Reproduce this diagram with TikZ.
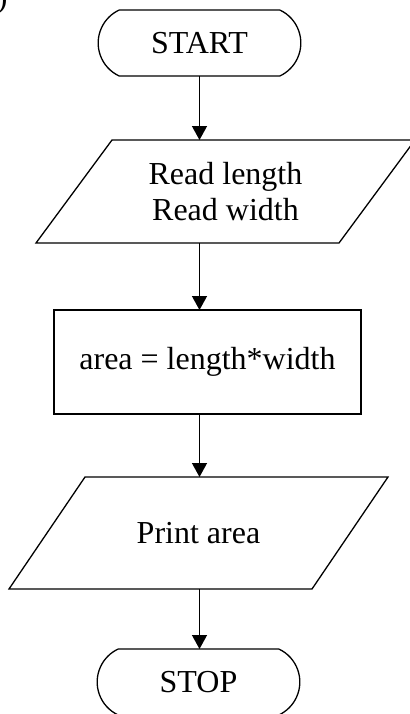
\documentclass[tikz,border=0pt]{standalone}
\usepackage{fontspec}
\setmainfont{Liberation Serif}
\usetikzlibrary{arrows.meta, positioning, shapes.misc}

\begin{document}
\begin{tikzpicture}[
    x=0.5pt, y=-0.5pt,
    node distance=1cm,
    every node/.style={font=\fontsize{16}{18}\selectfont},
    termnode/.style={
        rounded rectangle,
        rounded rectangle arc length=130,
        draw=black,
        line width=0.65pt,
        minimum width=108pt,
        minimum height=33pt,
        outer sep=0pt,
        align=center
    },
    ionode/.style={
        rectangle,
        minimum width=151.5pt,
        minimum height=#1,
        outer sep=0pt,
        align=center
    },
    rectnode/.style={
        rectangle,
        draw=black,
        line width=0.65pt,
        minimum width=153.5pt,
        minimum height=52pt,
        outer sep=0pt,
        align=center
    },
    ioline/.style={draw=black, line width=0.65pt, line join=miter},
    flowarrow/.style={-{Triangle[length=7pt, width=7.5pt]}, line width=0.65pt}
]

\useasboundingbox (0,0) rectangle (409,714);

\node[anchor=base east, inner sep=0pt] (tag) at (8,7) {)};

\node[termnode] (start) at (199.5,43) {START};
\node[ionode=51.5pt, below=32pt of start, xshift=13pt] (read)
    {Read length\\Read width};
\node[rectnode, below=33.5pt of read, xshift=-9pt] (calc)
    {area = length*width};
\node[ionode=56pt, below=31.5pt of calc, xshift=-4.5pt] (print)
    {Print area};
\node[termnode, below=30pt of print] (stop) {STOP};

% input / output boxes
\draw[ioline] ([xshift=-19pt]read.south west) -- ([xshift=-19pt]read.south east)
    -- ([xshift=19pt]read.north east) -- ([xshift=19pt]read.north west) -- cycle;
\draw[ioline] ([xshift=-19pt]print.south west) -- ([xshift=-19pt]print.south east)
    -- ([xshift=19pt]print.north east) -- ([xshift=19pt]print.north west) -- cycle;

\draw[flowarrow] (start.south) -- (start.south |- read.north);
\draw[flowarrow] (read.south -| start) -- (calc.north -| start);
\draw[flowarrow] (calc.south -| start) -- (print.north -| start);
\draw[flowarrow] (print.south -| start) -- (stop.north -| start);

\end{tikzpicture}
\end{document}
